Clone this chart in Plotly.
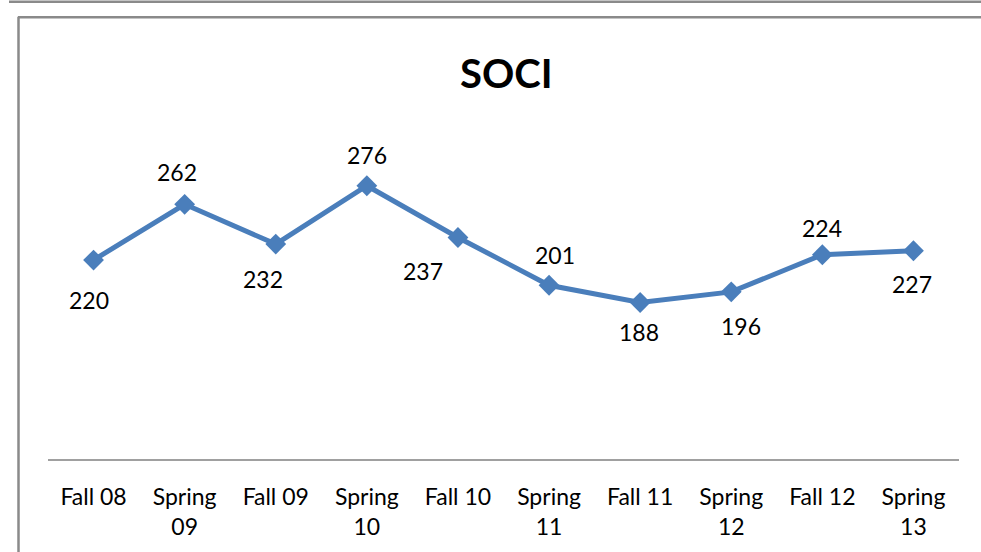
import plotly.graph_objects as go

categories = ["Fall 08", "Spring<br>09", "Fall 09", "Spring<br>10", "Fall 10",
              "Spring<br>11", "Fall 11", "Spring<br>12", "Fall 12", "Spring<br>13"]
values = [220, 262, 232, 276, 237, 201, 188, 196, 224, 227]
title_text = "SOCI"

# label offsets in pixels (style only)
label_dx = [-5, -8, -13, 0, -35, 6, -1, 10, 0, -1]
label_dy = [-40, 32, -35, 31, -34, 30, -30, -34, 27, -33]

W_PX, H_PX = 981, 552
L, R, T, B = 48, 959, 130, 461
PW, PH = R - L, B - T

def px(x):
    return (x - L) / PW

def py(y):
    return (B - y) / PH

LINE_COLOR = "#4A7EBB"
FONT = "Lato, 'Open Sans', sans-serif"

xs = list(range(len(categories)))

fig = go.Figure()
fig.add_trace(go.Scatter(
    x=xs, y=values, mode="lines+markers",
    line=dict(color=LINE_COLOR, width=5),
    marker=dict(symbol="diamond", size=16, color=LINE_COLOR),
    hoverinfo="skip", showlegend=False,
))

annotations = []
for i, v in enumerate(values):
    annotations.append(dict(
        x=xs[i], y=v, xref="x", yref="y", text=str(v), showarrow=False,
        xshift=label_dx[i], yshift=label_dy[i],
        font=dict(family=FONT, size=23, color="#000000"),
    ))
annotations.append(dict(
    x=px(507), y=py(73), xref="paper", yref="paper", text="<b>" + title_text + "</b>",
    showarrow=False, font=dict(family=FONT, size=40, color="#000000"),
    xanchor="center", yanchor="middle",
))

gray = "#8A8A8A"
shapes = [
    dict(type="line", xref="paper", yref="paper", x0=px(9), x1=px(985), y0=py(1), y1=py(1),
         line=dict(color=gray, width=2.5)),
    dict(type="line", xref="paper", yref="paper", x0=px(18), x1=px(985), y0=py(16.5), y1=py(16.5),
         line=dict(color=gray, width=2.5)),
    dict(type="line", xref="paper", yref="paper", x0=px(18.5), x1=px(18.5), y0=py(16), y1=py(560),
         line=dict(color=gray, width=2.5)),
]

fig.update_layout(
    width=W_PX, height=H_PX,
    margin=dict(l=L, r=W_PX - R, t=T, b=H_PX - B, pad=0),
    paper_bgcolor="white", plot_bgcolor="white",
    annotations=annotations, shapes=shapes,
    xaxis=dict(
        range=[-0.5, len(categories) - 0.5],
        tickmode="array", tickvals=xs, ticktext=categories,
        showgrid=False, zeroline=False, showline=True,
        linecolor="#A0A0A0", linewidth=2, ticks="",
        tickfont=dict(family=FONT, size=23, color="#000000"),
        ticklabelstandoff=16, fixedrange=True,
    ),
    yaxis=dict(
        range=[70, 70 + PH / 1.3345],
        visible=False, showgrid=False, zeroline=False, fixedrange=True,
    ),
)

fig.write_html(
    "out.html",
    config={"displayModeBar": False},
    post_script="document.body.style.margin='0';document.body.style.overflow='hidden';",
)
